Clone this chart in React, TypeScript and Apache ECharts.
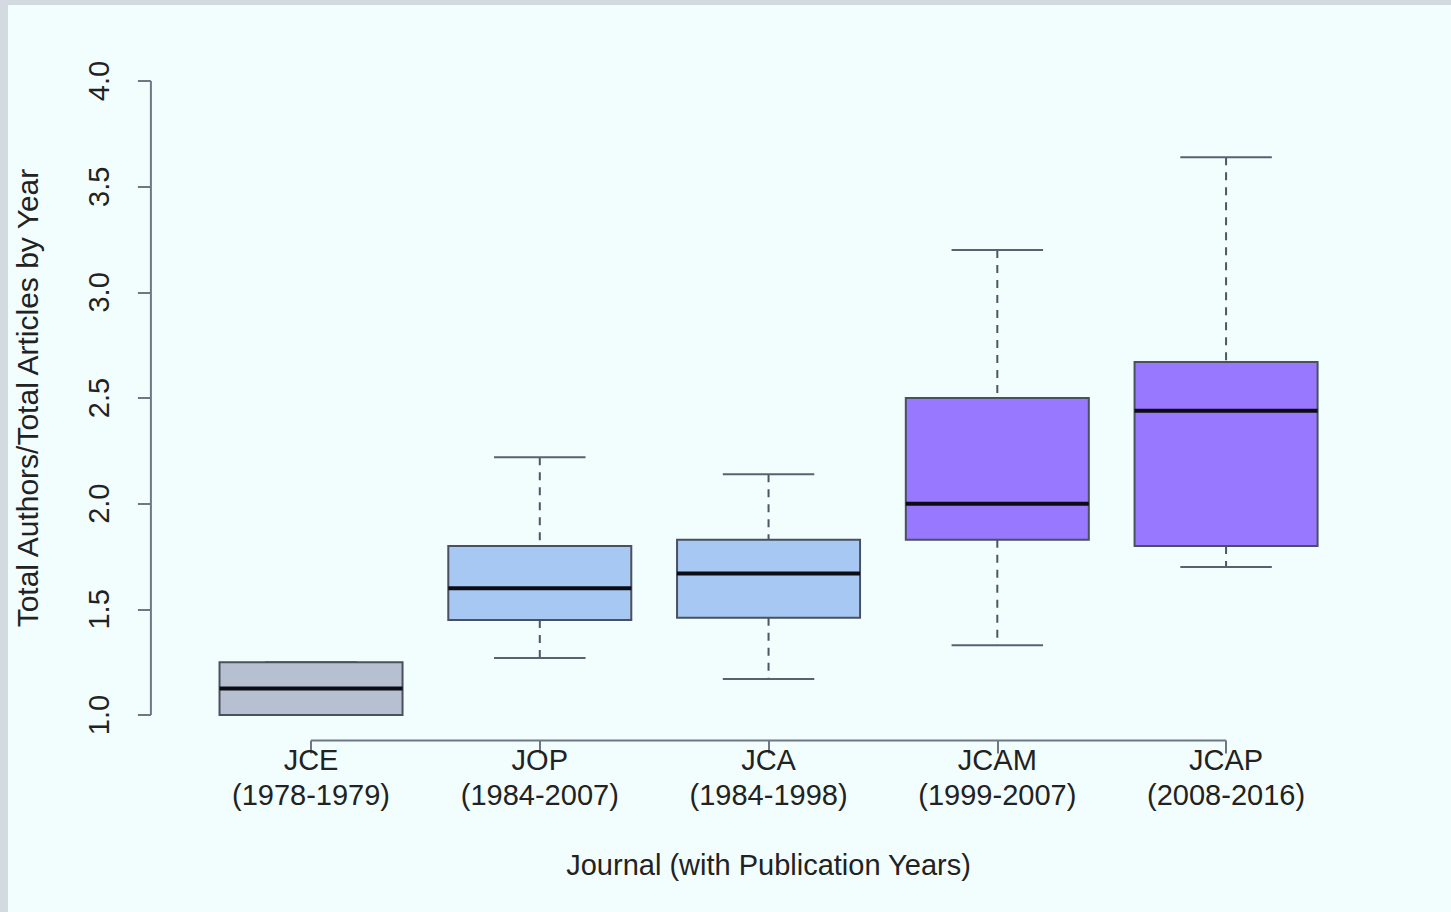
import React, { useEffect, useRef } from "react";
import * as echarts from "echarts";

const categories = ["JCE\n(1978-1979)", "JOP\n(1984-2007)", "JCA\n(1984-1998)", "JCAM\n(1999-2007)", "JCAP\n(2008-2016)"];
const positions = [1, 2, 3, 4, 5];
const mins = [1.0, 1.27, 1.17, 1.33, 1.7];
const q1s = [1.0, 1.45, 1.46, 1.83, 1.8];
const medians = [1.125, 1.6, 1.67, 2.0, 2.44];
const q3s = [1.25, 1.8, 1.83, 2.5, 2.67];
const maxs = [1.25, 2.22, 2.14, 3.2, 3.64];
const fills = ["#b6c0d0", "#a6c8f2", "#a6c8f2", "#9778fe", "#9778fe"];
const yTicks = [1.0, 1.5, 2.0, 2.5, 3.0, 3.5, 4.0];

const FONT = "'Liberation Sans', Arial, Helvetica, sans-serif";
const AXIS_COLOR = "#6f7686";
const TEXT_COLOR = "#222222";

export default function App() {
  const ref = useRef<HTMLDivElement>(null);
  useEffect(() => {
    if (!ref.current) return;
    const chart = echarts.init(ref.current, null, { renderer: "svg" });
    const boxData = positions.map((p, i) => [p, mins[i], q1s[i], medians[i], q3s[i], maxs[i], i]);
    chart.setOption({
      animation: false,
      backgroundColor: "#f2fefe",
      textStyle: { fontFamily: FONT },
      graphic: [
        { type: "rect", left: 0, top: 0, shape: { width: 8, height: 912 }, style: { fill: "#d3dae0" }, silent: true },
        { type: "rect", left: 0, top: 0, shape: { width: 1451, height: 5 }, style: { fill: "#d3dae0" }, silent: true },
      ],
      grid: { left: 150.9, right: 64.8, top: 55.7, bottom: 171.6, containLabel: false },
      xAxis: {
        type: "value",
        min: 0.3,
        max: 5.7,
        splitLine: { show: false },
        axisLine: { show: false },
        axisTick: { show: true, customValues: positions, length: 13, lineStyle: { color: AXIS_COLOR, width: 2 } },
        axisLabel: {
          customValues: positions,
          formatter: (v: number) => categories[Math.round(v) - 1] ?? "",
          color: TEXT_COLOR,
          fontSize: 29,
          lineHeight: 35,
          margin: 2,
          fontFamily: FONT,
        },
        name: "Journal (with Publication Years)",
        nameLocation: "middle",
        nameGap: 110,
        nameTextStyle: { color: TEXT_COLOR, fontSize: 29, fontFamily: FONT },
      },
      yAxis: {
        type: "value",
        min: 0.88,
        max: 4.12,
        splitLine: { show: false },
        axisLine: { show: false },
        axisTick: { show: true, customValues: yTicks, length: 13, lineStyle: { color: AXIS_COLOR, width: 2 } },
        axisLabel: {
          customValues: yTicks,
          formatter: (v: number) => v.toFixed(1),
          rotate: 90,
          color: TEXT_COLOR,
          fontSize: 29,
          margin: 37,
          fontFamily: FONT,
        },
        name: "Total Authors/Total Articles by Year",
        nameLocation: "middle",
        nameRotate: 90,
        nameGap: 108,
        nameTextStyle: { color: TEXT_COLOR, fontSize: 30, fontFamily: FONT },
      },
      series: [
        {
          type: "line",
          data: [[0.3, yTicks[0]], [0.3, yTicks[yTicks.length - 1]]],
          symbol: "none",
          clip: false,
          silent: true,
          lineStyle: { color: AXIS_COLOR, width: 2 },
        },
        {
          type: "line",
          data: [[positions[0], 0.88], [positions[positions.length - 1], 0.88]],
          symbol: "none",
          clip: false,
          silent: true,
          lineStyle: { color: AXIS_COLOR, width: 2 },
        },
        {
          type: "custom",
          data: boxData,
          clip: false,
          silent: true,
          renderItem: (params: any, api: any) => {
            const x = api.value(0);
            const mn = api.value(1), q1 = api.value(2), md = api.value(3), q3 = api.value(4), mx = api.value(5);
            const idx = api.value(6);
            const hw = 0.4;
            const cw = 0.2;
            const tl = api.coord([x - hw, q3]);
            const br = api.coord([x + hw, q1]);
            const cTop = api.coord([x, mx]);
            const cQ3 = api.coord([x, q3]);
            const cQ1 = api.coord([x, q1]);
            const cBot = api.coord([x, mn]);
            const capL = api.coord([x - cw, mx]);
            const capR = api.coord([x + cw, mx]);
            const capL2 = api.coord([x - cw, mn]);
            const capR2 = api.coord([x + cw, mn]);
            const mL = api.coord([x - hw, md]);
            const mR = api.coord([x + hw, md]);
            const whisk = { stroke: "#4f5565", lineWidth: 2, lineDash: [8, 7] };
            const cap = { stroke: "#5a6070", lineWidth: 2 };
            return {
              type: "group",
              children: [
                { type: "line", shape: { x1: cTop[0], y1: cTop[1], x2: cQ3[0], y2: cQ3[1] }, style: whisk },
                { type: "line", shape: { x1: cQ1[0], y1: cQ1[1], x2: cBot[0], y2: cBot[1] }, style: whisk },
                { type: "line", shape: { x1: capL[0], y1: capL[1], x2: capR[0], y2: capR[1] }, style: cap },
                { type: "line", shape: { x1: capL2[0], y1: capL2[1], x2: capR2[0], y2: capR2[1] }, style: cap },
                {
                  type: "rect",
                  shape: { x: tl[0], y: tl[1], width: br[0] - tl[0], height: br[1] - tl[1] },
                  style: { fill: fills[idx], stroke: "#4a5060", lineWidth: 2 },
                },
                { type: "line", shape: { x1: mL[0], y1: mL[1], x2: mR[0], y2: mR[1] }, style: { stroke: "#0c0c14", lineWidth: 4 } },
              ],
            };
          },
        },
      ],
    });
    return () => chart.dispose();
  }, []);
  return <div ref={ref} style={{ position: "fixed", left: 0, top: 0, width: 1451, height: 912 }} />;
}
